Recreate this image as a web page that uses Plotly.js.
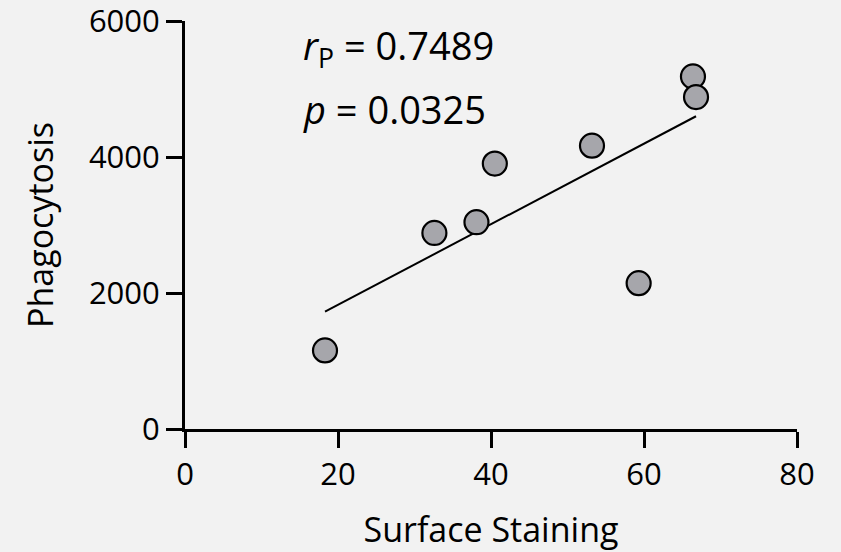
<!DOCTYPE html>
<html>
<head>
<meta charset="utf-8">
<script src="https://cdn.plot.ly/plotly-3.0.1.min.js"></script>
<style>html,body{margin:0;padding:0;background:#f2f2f2;}#chart{width:841px;height:552px;}</style>
</head>
<body>
<div id="chart"></div>
<script>
// Data
const surfaceStaining = [18.3, 32.6, 38.1, 40.5, 53.2, 59.3, 66.4, 66.8];
const phagocytosis    = [1156, 2883, 3041, 3903, 4167, 2145, 5185, 4881];
const xTicks = [0, 20, 40, 60, 80];
const yTicks = [0, 2000, 4000, 6000];
const statLabels = ['<i>r</i><sub>P</sub> = 0.7489', '<i>p</i> = 0.0325'];
const statPositions = [[15.2, 5610], [15.2, 4700]];

// Least-squares fit computed from the data
const n = surfaceStaining.length;
const mx = surfaceStaining.reduce((a, b) => a + b, 0) / n;
const my = phagocytosis.reduce((a, b) => a + b, 0) / n;
let sxy = 0, sxx = 0;
for (let i = 0; i < n; i++) {
  sxy += (surfaceStaining[i] - mx) * (phagocytosis[i] - my);
  sxx += (surfaceStaining[i] - mx) ** 2;
}
const slope = sxy / sxx;
const intercept = my - slope * mx;
const fitX = [Math.min(...surfaceStaining), Math.max(...surfaceStaining)];
const fitY = fitX.map(x => intercept + slope * x);

const font = 'Open Sans, sans-serif';

const traces = [
  {
    x: fitX, y: fitY, mode: 'lines', type: 'scatter',
    line: {color: '#000000', width: 2}, hoverinfo: 'skip', cliponaxis: false
  },
  {
    x: surfaceStaining, y: phagocytosis, mode: 'markers', type: 'scatter',
    marker: {size: 24, color: '#a6a6ab', line: {color: '#000000', width: 2.2}},
    cliponaxis: false
  }
];

const layout = {
  width: 841, height: 552,
  paper_bgcolor: '#f2f2f2', plot_bgcolor: '#f2f2f2',
  showlegend: false,
  margin: {l: 185, r: 44, t: 21, b: 123, pad: 0},
  font: {family: font, color: '#000000'},
  xaxis: {
    range: [0, 80], tickvals: xTicks, ticktext: xTicks.map(String),
    showgrid: false, zeroline: false, showline: true, linecolor: '#000', linewidth: 3,
    ticks: 'outside', ticklen: 16, tickwidth: 3, tickcolor: '#000',
    ticklabeloverflow: 'allow',
    tickfont: {family: font, size: 31, color: '#000'},
    title: {text: 'Surface Staining', font: {family: font, size: 34, color: '#000'}, standoff: 37}
  },
  yaxis: {
    range: [0, 6000], tickvals: yTicks, ticktext: yTicks.map(String),
    showgrid: false, zeroline: false, showline: true, linecolor: '#000', linewidth: 3,
    ticks: 'outside', ticklen: 16, tickwidth: 3, tickcolor: '#000',
    ticklabeloverflow: 'allow',
    tickfont: {family: font, size: 31, color: '#000'},
    title: {text: 'Phagocytosis', font: {family: font, size: 34, color: '#000'}, standoff: 25}
  },
  annotations: statLabels.map((t, i) => ({
    x: statPositions[i][0], y: statPositions[i][1], xref: 'x', yref: 'y',
    text: t, showarrow: false, xanchor: 'left', yanchor: 'middle',
    font: {family: font, size: 38, color: '#000'}
  }))
};

Plotly.newPlot('chart', traces, layout, {displayModeBar: false, staticPlot: true});
</script>
</body>
</html>
